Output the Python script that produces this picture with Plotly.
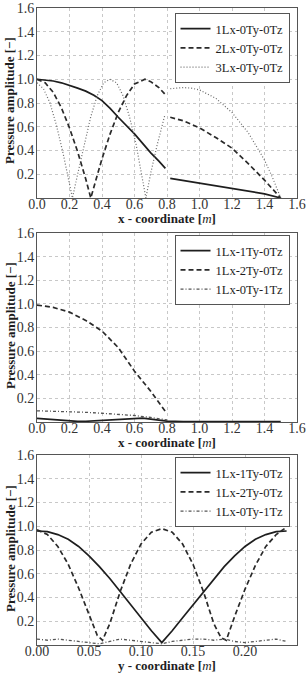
import plotly.graph_objects as go

# ---------------- Panel 1 data (x - coordinate) ----------------
p1_a_x = [0.00, 0.05, 0.10, 0.15, 0.20, 0.25, 0.30, 0.35, 0.40, 0.45, 0.50, 0.55, 0.60, 0.65, 0.70, 0.75, 0.79]
p1_a_y = [1.00, 0.995, 0.985, 0.97, 0.95, 0.925, 0.90, 0.865, 0.82, 0.755, 0.68, 0.61, 0.54, 0.46, 0.38, 0.31, 0.25]
p1_a2_x = [0.82, 1.00, 1.20, 1.40, 1.50]
p1_a2_y = [0.166, 0.125, 0.08, 0.035, 0.0]

p1_b_x = [0.00, 0.05, 0.10, 0.15, 0.20, 0.25, 0.30, 0.331, 0.36, 0.40, 0.45, 0.50, 0.55, 0.60, 0.664, 0.70, 0.75, 0.79]
p1_b_y = [1.00, 0.97, 0.89, 0.76, 0.59, 0.39, 0.16, 0.0, 0.14, 0.33, 0.54, 0.72, 0.86, 0.96, 1.00, 0.98, 0.93, 0.87]
p1_b2_x = [0.82, 0.90, 1.00, 1.10, 1.20, 1.30, 1.40, 1.50]
p1_b2_y = [0.68, 0.65, 0.59, 0.51, 0.42, 0.29, 0.15, 0.0]

p1_c_x = [0.00, 0.04, 0.08, 0.12, 0.16, 0.20, 0.218, 0.25, 0.29, 0.33, 0.37, 0.41, 0.448, 0.49, 0.53, 0.57, 0.61, 0.65, 0.67, 0.70, 0.74, 0.787]
p1_c_y = [0.97, 0.92, 0.80, 0.61, 0.38, 0.12, 0.0, 0.20, 0.45, 0.68, 0.86, 0.97, 1.00, 0.97, 0.86, 0.68, 0.45, 0.16, 0.0, 0.21, 0.45, 0.70]
p1_c2_x = [0.82, 0.86, 0.90, 0.95, 1.00, 1.10, 1.20, 1.30, 1.40, 1.45, 1.50]
p1_c2_y = [0.92, 0.925, 0.93, 0.925, 0.91, 0.84, 0.72, 0.55, 0.32, 0.17, 0.0]

# ---------------- Panel 2 data (x - coordinate) ----------------
p2_a_x = [0.00, 0.05, 0.10, 0.15, 0.20, 0.25, 0.30, 0.35, 0.40, 0.45, 0.50, 0.55, 0.60, 0.65, 0.70, 0.75, 0.80, 0.90, 1.00, 1.10, 1.20, 1.30, 1.40, 1.50]
p2_a_y = [0.030, 0.025, 0.020, 0.012, 0.008, 0.005, 0.006, 0.010, 0.015, 0.020, 0.025, 0.028, 0.030, 0.033, 0.025, 0.015, 0.008, 0.004, 0.004, 0.003, 0.003, 0.003, 0.003, 0.003]
p2_b_x = [0.00, 0.10, 0.20, 0.30, 0.40, 0.50, 0.60, 0.70, 0.79]
p2_b_y = [0.99, 0.97, 0.93, 0.86, 0.77, 0.63, 0.43, 0.26, 0.09]
p2_c_x = [0.00, 0.10, 0.20, 0.30, 0.40, 0.50, 0.60, 0.70, 0.80]
p2_c_y = [0.095, 0.092, 0.088, 0.082, 0.074, 0.066, 0.055, 0.038, 0.018]

# ---------------- Panel 3 data (y - coordinate) ----------------
p3_x = [0.000, 0.010, 0.020, 0.030, 0.040, 0.050, 0.060, 0.070, 0.080, 0.090, 0.100, 0.110, 0.120,
        0.130, 0.140, 0.150, 0.160, 0.170, 0.180, 0.190, 0.200, 0.210, 0.220, 0.230, 0.240]
p3_a_y = [0.96, 0.955, 0.93, 0.89, 0.83, 0.75, 0.66, 0.56, 0.45, 0.34, 0.23, 0.12, 0.02,
          0.12, 0.23, 0.34, 0.45, 0.56, 0.66, 0.75, 0.83, 0.89, 0.93, 0.955, 0.96]
p3_b_x = [0.000, 0.010, 0.020, 0.030, 0.040, 0.050, 0.058, 0.063, 0.070, 0.080, 0.090, 0.100, 0.110, 0.120,
          0.130, 0.140, 0.150, 0.160, 0.170, 0.177, 0.182, 0.190, 0.200, 0.210, 0.220, 0.230, 0.238]
p3_b_y = [0.97, 0.93, 0.83, 0.68, 0.48, 0.26, 0.08, 0.04, 0.18, 0.45, 0.68, 0.85, 0.95, 0.98,
          0.95, 0.85, 0.68, 0.45, 0.18, 0.06, 0.04, 0.24, 0.47, 0.67, 0.83, 0.93, 0.98]
p3_c_y = [0.05, 0.04, 0.05, 0.04, 0.03, 0.02, 0.01, 0.03, 0.05, 0.04, 0.03, 0.02, 0.01,
          0.03, 0.04, 0.05, 0.05, 0.04, 0.05, 0.03, 0.02, 0.03, 0.04, 0.05, 0.03]

p1_names = ["1Lx-0Ty-0Tz", "2Lx-0Ty-0Tz", "3Lx-0Ty-0Tz"]
p23_names = ["1Lx-1Ty-0Tz", "1Lx-2Ty-0Tz", "1Lx-0Ty-1Tz"]

x_ticks_m = [0.0, 0.2, 0.4, 0.6, 0.8, 1.0, 1.2, 1.4, 1.6]
y_ticks_m = [0.00, 0.05, 0.10, 0.15, 0.20, 0.25]
amp_ticks = [0.2, 0.4, 0.6, 0.8, 1.0, 1.2, 1.4, 1.6]

FONT = "Liberation Serif"
SOLID = dict(color="#1e1e1e", width=1.7, dash="solid")
DASH = dict(color="#2a2a2a", width=1.7, dash="5px,3px")
DOT1 = dict(color="#6a6a6a", width=1.2, dash="1px,2px")
DOT2 = dict(color="#555555", width=1.3, dash="3px,2px,1px,2px")

fig = go.Figure()

def add(x, y, line, name, xa, ya, leg, show):
    fig.add_trace(go.Scatter(x=x, y=y, mode="lines", line=line, name=name,
                             xaxis=xa, yaxis=ya, legend=leg, showlegend=show,
                             legendgroup=leg + name))

# panel 1
add(p1_a_x, p1_a_y, SOLID, p1_names[0], "x", "y", "legend", True)
add(p1_a2_x, p1_a2_y, SOLID, p1_names[0], "x", "y", "legend", False)
add(p1_b_x, p1_b_y, DASH, p1_names[1], "x", "y", "legend", True)
add(p1_b2_x, p1_b2_y, DASH, p1_names[1], "x", "y", "legend", False)
add(p1_c_x, p1_c_y, DOT1, p1_names[2], "x", "y", "legend", True)
add(p1_c2_x, p1_c2_y, DOT1, p1_names[2], "x", "y", "legend", False)
# panel 2
add(p2_a_x, p2_a_y, SOLID, p23_names[0], "x2", "y2", "legend2", True)
add(p2_b_x, p2_b_y, DASH, p23_names[1], "x2", "y2", "legend2", True)
add(p2_c_x, p2_c_y, DOT2, p23_names[2], "x2", "y2", "legend2", True)
# panel 3
add(p3_x, p3_a_y, SOLID, p23_names[0], "x3", "y3", "legend3", True)
add(p3_b_x, p3_b_y, DASH, p23_names[1], "x3", "y3", "legend3", True)
add(p3_x, p3_c_y, DOT2, p23_names[2], "x3", "y3", "legend3", True)

W, H = 308, 673
L, R, T, B = 37, 10.5, 8, 28
ph = H - T - B
def yd(top_px, bot_px):
    return [(H - B - bot_px) / ph, (H - B - top_px) / ph]

dom1 = yd(8, 198)
dom2 = yd(233, 422)
dom3 = yd(455, 645)

common_x = dict(showgrid=True, gridcolor="#c8c8c8", griddash="dot", gridwidth=1,
                showline=True, linecolor="#555555", linewidth=1, mirror=True,
                ticks="",
                tickfont=dict(family=FONT, size=14, color="#333333"),
                ticklabelstandoff=-7,
                zeroline=False, domain=[0, 1])
common_y = dict(showgrid=True, gridcolor="#c8c8c8", griddash="dot", gridwidth=1,
                showline=True, linecolor="#555555", linewidth=1, mirror=True,
                ticks="",
                tickfont=dict(family=FONT, size=14, color="#333333"),
                ticklabelstandoff=-1,
                zeroline=False, range=[0, 1.6], tickvals=amp_ticks,
                ticktext=[f"{v:.1f}" for v in amp_ticks])

layout = dict(width=W, height=H, margin=dict(l=L, r=R, t=T, b=B, autoexpand=False),
              paper_bgcolor="white", plot_bgcolor="white", font=dict(family=FONT))
layout["xaxis"] = dict(common_x, anchor="y", range=[0, 1.6], tickvals=x_ticks_m,
                       ticktext=[f"{v:.1f}" for v in x_ticks_m])
layout["yaxis"] = dict(common_y, anchor="x", domain=dom1)
layout["xaxis2"] = dict(common_x, anchor="y2", range=[0, 1.6], tickvals=x_ticks_m,
                        ticktext=[f"{v:.1f}" for v in x_ticks_m])
layout["yaxis2"] = dict(common_y, anchor="x2", domain=dom2)
layout["xaxis3"] = dict(common_x, anchor="y3", range=[0, 0.25], tickvals=y_ticks_m,
                        ticktext=[f"{v:.2f}" for v in y_ticks_m])
layout["yaxis3"] = dict(common_y, anchor="x3", domain=dom3)

def leg(top_px):
    return dict(x=(290 - L) / (W - L - R), y=(H - B - top_px) / ph, xanchor="right", yanchor="top",
                bgcolor="white", bordercolor="#555555", borderwidth=1,
                font=dict(family=FONT, size=12.5, color="#1e1e1e"), tracegroupgap=0)

layout["legend"] = leg(13)
layout["legend2"] = leg(235)
layout["legend3"] = leg(457)

fig.update_layout(**layout)

def ann(text, x, y, angle=0):
    fig.add_annotation(text=text, xref="paper", yref="paper", x=x, y=y, showarrow=False,
                       textangle=angle, font=dict(family=FONT, size=13, color="#1e1e1e"),
                       xanchor="center", yanchor="middle")

def py(px):
    return (H - B - px) / ph

def px_x(px):
    return (px - L) / (W - L - R)

ann("<b>x - coordinate [</b><i>m</i><b>]</b>", px_x(167), py(219))
ann("<b>x - coordinate [</b><i>m</i><b>]</b>", px_x(167), py(443))
ann("<b>y - coordinate [</b><i>m</i><b>]</b>", px_x(167), py(665.5))
ann("<b>Pressure amplitude [\u2212]</b>", px_x(10), py(101), -90)
ann("<b>Pressure amplitude [\u2212]</b>", px_x(10), py(326), -90)
ann("<b>Pressure amplitude [\u2212]</b>", px_x(10), py(549), -90)

fig.write_html("out.html")
